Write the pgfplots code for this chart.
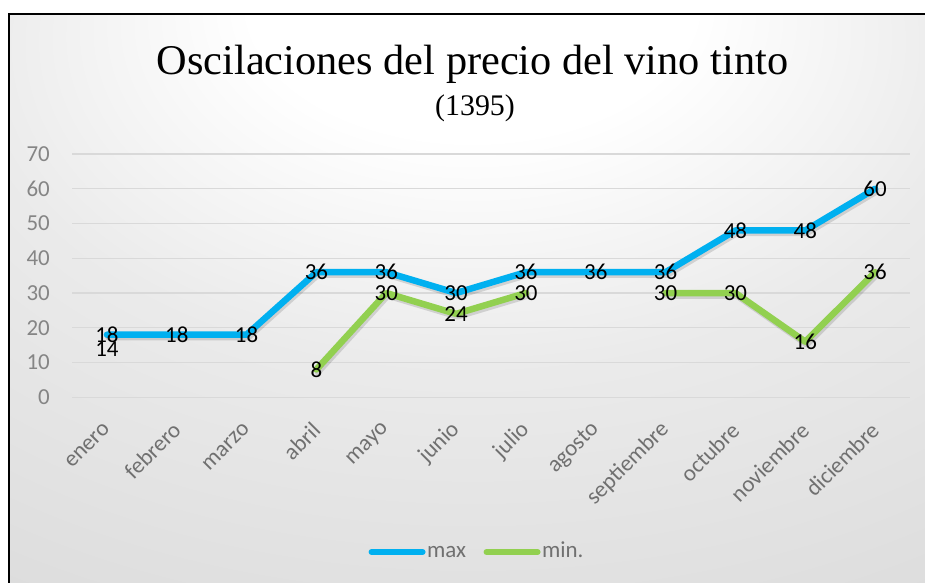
\documentclass[border=0pt]{standalone}
\usepackage{fontspec}
\setmainfont{Liberation Serif}
\newfontfamily\calfont{Carlito}
\usepackage{pgfplots}
\pgfplotsset{compat=1.18}
\definecolor{maxc}{HTML}{00B0F0}
\definecolor{minc}{HTML}{92D050}
\definecolor{gridc}{HTML}{D9D9D9}
\definecolor{ylab}{HTML}{858585}
\definecolor{xlab}{HTML}{707070}
\pgfdeclareradialshading{bg}{\pgfpoint{0bp}{30bp}}{color(0bp)=(white); color(12bp)=(white); color(27bp)=(gray!16); color(55bp)=(gray!31); color(80bp)=(gray!44); color(95bp)=(gray!52)}
\newcommand{\lblfont}{\fontsize{23}{26}\selectfont\calfont}
\begin{document}
\begin{tikzpicture}[x=1bp,y=1bp]
\useasboundingbox (0,0) rectangle (925,583);
\fill[white] (0,0) rectangle (925,583);
\begin{scope}
\clip (0,0) rectangle (925,583);
\shade[shading=bg] (9,-10) rectangle (935,569);
\draw[line width=1.6bp] (9,-10) rectangle (935,569);
\end{scope}
\node[font=\fontsize{42.5}{50}\selectfont, anchor=base, inner sep=0pt] at (472.5,508) {Oscilaciones del precio del vino tinto};
\node[font=\fontsize{30}{36}\selectfont, anchor=base, inner sep=0pt] at (475,467) {(1395)};
\begin{axis}[
  at={(72bp,185.7bp)}, anchor=south west,
  scale only axis, width=838bp, height=243.3bp,
  xmin=-0.5, xmax=11.5, ymin=0, ymax=70,
  ytick={0,10,...,70},
  xtick={0,...,11},
  xticklabels={enero,febrero,marzo,abril,mayo,junio,julio,agosto,septiembre,octubre,noviembre,diciembre},
  axis line style={draw=none},
  major tick length=0pt,
  tick style={draw=none},
  ymajorgrids,
  grid style={gridc, line width=1.3bp},
  /pgf/number format/assume math mode=true,
  yticklabel style={font=\lblfont, text=ylab, anchor=east, inner sep=0pt},
  yticklabel shift=22bp,
  xticklabel style={font=\lblfont, text=xlab, rotate=45, anchor=east, inner sep=0pt},
  xticklabel shift=29bp,
  unbounded coords=jump,
  clip=false,
  legend style={at={(0.483,-0.636)}, anchor=center, draw=none, fill=none,
    legend columns=2, font=\lblfont, text=xlab,
    nodes={inner sep=1.5bp, text height=11bp, text depth=1bp},
    /tikz/every even column/.append style={column sep=16bp}},
  legend image code/.code={\draw[#1, line width=6bp, line cap=round] (3bp,0bp) -- (54bp,0bp);},
  every node near coord/.append style={font=\lblfont, text=black, anchor=center, inner sep=0pt},
]
% shadows
\addplot[black, opacity=0.13, line width=6.5bp, line join=round, line cap=round, xshift=1.5bp, yshift=-2.5bp, forget plot] coordinates {
(0,18) (1,18) (2,18) (3,36) (4,36) (5,30) (6,36) (7,36) (8,36) (9,48) (10,48) (11,60)};
\addplot[black, opacity=0.13, line width=6.5bp, line join=round, line cap=round, xshift=1.5bp, yshift=-2.5bp, forget plot] coordinates {
(0,14) (1,nan) (2,nan) (3,8) (4,30) (5,24) (6,30) (7,nan) (8,30) (9,30) (10,16) (11,36)};
% series
\addplot[maxc, line width=6.5bp, line join=round, line cap=round, nodes near coords] coordinates {
(0,18) (1,18) (2,18) (3,36) (4,36) (5,30) (6,36) (7,36) (8,36) (9,48) (10,48) (11,60)};
\addlegendentry{max}
\addplot[minc, line width=6.5bp, line join=round, line cap=round, nodes near coords] coordinates {
(0,14) (1,nan) (2,nan) (3,8) (4,30) (5,24) (6,30) (7,nan) (8,30) (9,30) (10,16) (11,36)};
\addlegendentry{min.}
\end{axis}
\end{tikzpicture}
\end{document}
